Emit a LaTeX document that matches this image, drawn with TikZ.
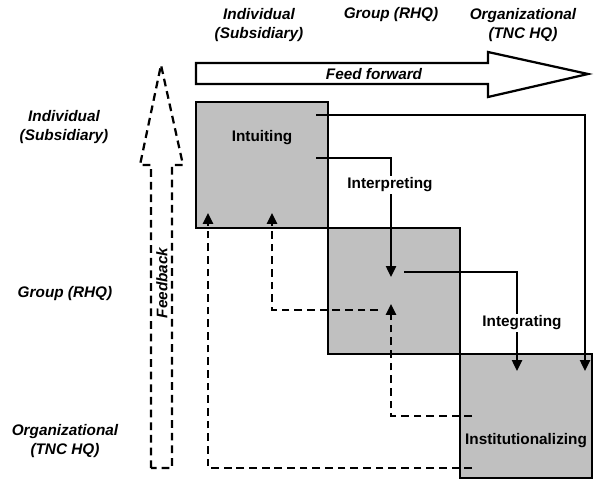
\documentclass[tikz,border=0pt]{standalone}
\usepackage{fontspec}
\setmainfont{Liberation Sans}
\usetikzlibrary{arrows.meta}
\definecolor{boxgray}{RGB}{192,192,192}
\newcommand{\lblfont}{\fontsize{10.9}{13.5}\selectfont\bfseries}

\begin{document}
\begin{tikzpicture}[x=0.025cm,y=-0.025cm,
	level/.style={font=\lblfont\itshape, align=center},
	phase/.style={font=\lblfont, inner sep=1.5pt},
	box/.style={draw, line width=1.5pt, fill=boxgray},
	flow/.style={line width=1.3pt, -{Triangle[length=0.27cm,width=0.25cm]}},
	back/.style={flow, line width=1.6pt, dash pattern=on 5.5pt off 3.5pt}]
		\useasboundingbox (0,0) rectangle (596,480);
		\def\feedforward{(196,63) -- (488,63) -- (488,52) -- (588,74) -- (488,97) -- (488,84) -- (196,84) -- cycle}
		\def\feedback{(151,468) -- (151,165) -- (140,165) -- (161,65) -- (183,165) -- (172,165) -- (172,468) -- cycle}
		% levels
		\node[level] (topind) at (259,25) {Individual\\(Subsidiary)};
		\node[level] (topgrp) at (391,15) {Group (RHQ)};
		\node[level] (toporg) at (523,25) {Organizational\\(TNC HQ)};
		\node[level] (leftind) at (64,127) {Individual\\(Subsidiary)};
		\node[level] (leftgrp) at (65,294) {Group (RHQ)};
		\node[level] (leftorg) at (65,441) {Organizational\\(TNC HQ)};
		% big arrows
		\draw[line width=1.6pt, fill=white] \feedforward;
		\draw[line width=1.6pt, dash pattern=on 5.5pt off 3.5pt] \feedback;
		\node[level] (ff) at (374,74) {Feed forward};
		\node[level, rotate=90] (fb) at (162,283) {Feedback};
		% boxes
		\filldraw[box] (196,102) rectangle (328,228);
		\filldraw[box] (328,228) rectangle (460,354);
		\filldraw[box] (460,354) rectangle (592,478);
		% feed forward flows
		\coordinate (f1) at (316,115);
		\coordinate (f1e) at (585,371);
		\coordinate (f2) at (316,158);
		\coordinate (f2e) at (391,277);
		\coordinate (f3) at (404,272);
		\coordinate (f3e) at (517,371);
		\draw[flow] (f1) -| (f1e);
		\draw[flow] (f2) -| (f2e);
		\draw[flow] (f3) -| (f3e);
		% feedback flows
		\coordinate (b1) at (472,416);
		\coordinate (b1e) at (391,304);
		\coordinate (b2) at (378,310);
		\coordinate (b2e) at (272,213);
		\coordinate (b3) at (472,468);
		\coordinate (b3e) at (208,213);
		\draw[back] (b1) -| (b1e);
		\draw[back] (b2) -| (b2e);
		\draw[back] (b3) -| (b3e);
		% phases
		\node[phase] (intu) at (262,138) {Intuiting};
		\node[phase, fill=white] (interp) at (390,185) {Interpreting};
		\node[phase, fill=white] (integ) at (522,323) {Integrating};
		\node[phase] (inst) at (526,441) {Institutionalizing};
	\end{tikzpicture}
\end{document}
